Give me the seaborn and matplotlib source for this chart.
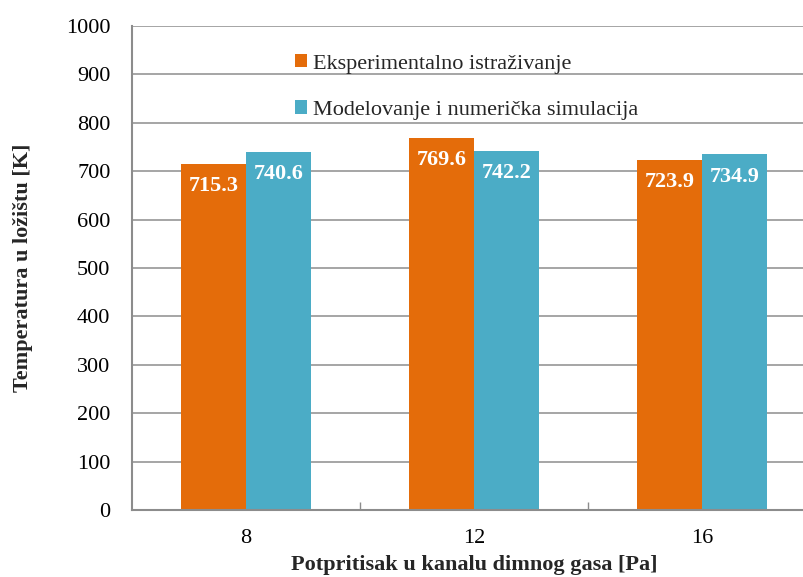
import matplotlib
matplotlib.use("Agg")
import matplotlib.pyplot as plt
import seaborn as sns
import pandas as pd
from matplotlib.ticker import FixedLocator

pressures = ["8", "12", "16"]
series_names = ["Eksperimentalno istraživanje", "Modelovanje i numerička simulacija"]
experimental = [715.3, 769.6, 723.9]
simulation = [740.6, 742.2, 734.9]
colors = ["#E46C0A", "#4BACC6"]

df = pd.DataFrame({
    "pressure": pressures * 2,
    "series": [series_names[0]] * 3 + [series_names[1]] * 3,
    "value": experimental + simulation,
})

sns.set_theme(style="white")
plt.rcParams["font.family"] = ["Liberation Serif", "DejaVu Serif"]

fig = plt.figure(figsize=(8.04, 5.77), dpi=100)
W, H = 804, 577
ax = fig.add_axes([132 / W, 1 - 510 / H, (816 - 132) / W, (510 - 26) / H])

sns.barplot(data=df, x="pressure", y="value", hue="series", order=pressures,
            hue_order=series_names, palette=colors, width=0.57, gap=0,
            saturation=1, ax=ax, edgecolor="none", linewidth=0)

ax.set_ylim(0, 1000)
ax.set_xlim(-0.5, 2.5)
ax.set_yticks(range(0, 1001, 100))
ax.yaxis.grid(True, color="#9E9E9E", linewidth=1.3)
ax.set_axisbelow(True)
for s in ["top", "right"]:
    ax.spines[s].set_visible(False)
for s in ["left", "bottom"]:
    ax.spines[s].set_color("#8C8C8C")
    ax.spines[s].set_linewidth(1.5)

ax.tick_params(axis="y", length=0, labelsize=16, pad=15.5, colors="black")
ax.tick_params(axis="x", which="major", length=0, labelsize=16, pad=14, colors="black")
ax.xaxis.set_minor_locator(FixedLocator([0.5, 1.5]))
ax.tick_params(axis="x", which="minor", bottom=True, direction="in", length=6,
               width=1, color="#8C8C8C")

ax.set_xlabel("Potpritisak u kanalu dimnog gasa [Pa]", fontsize=16, fontweight="bold", labelpad=5)
ax.set_ylabel("Temperatura u ložištu [K]", fontsize=16, fontweight="bold", labelpad=24)

for cont in ax.containers:
    for bar, val in zip(cont, cont.datavalues):
        ax.annotate(f"{val:.1f}", (bar.get_x() + bar.get_width() / 2, val),
                    xytext=(0, -16), textcoords="offset points",
                    ha="center", va="center", color="white",
                    fontsize=16, fontweight="bold")

leg = ax.legend(loc="upper left", bbox_to_anchor=(284 / W, 1 - 43 / H),
                bbox_transform=fig.transFigure, frameon=False, fontsize=16,
                handlelength=0.55, handleheight=0.55, handletextpad=0.25,
                labelspacing=1.2, borderpad=0)

fig.savefig("out.png", dpi=100)
